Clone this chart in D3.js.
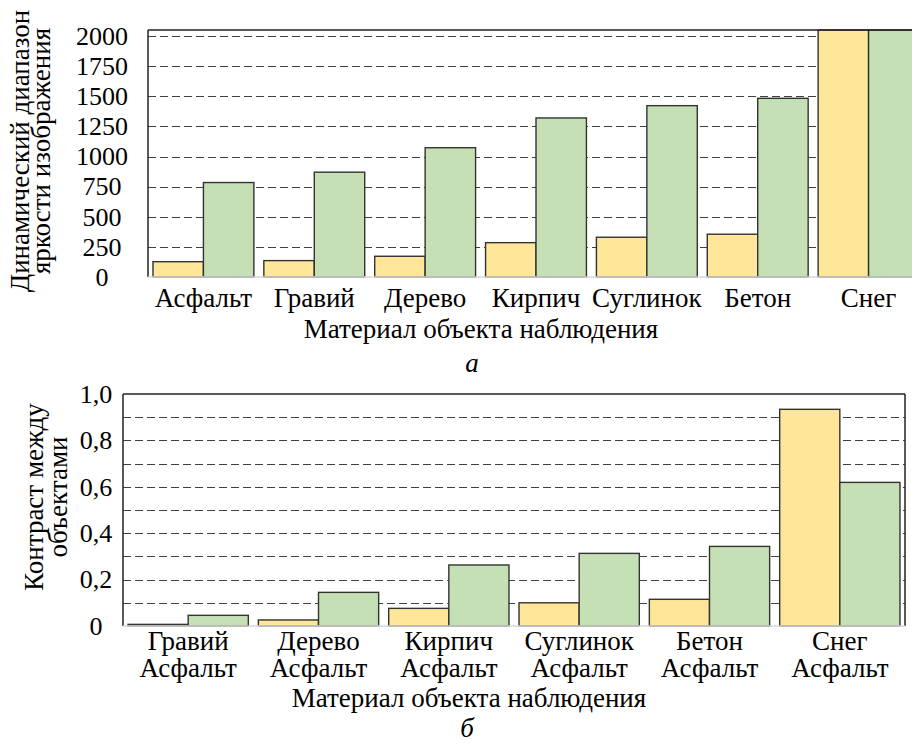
<!DOCTYPE html>
<html>
<head>
<meta charset="utf-8">
<script src="https://cdn.jsdelivr.net/npm/d3@7"></script>
</head>
<body style="margin:0">
<div id="chart"></div>
<script>
// ---- data ----
var seriesNames = ["ряд 1", "ряд 2"];

var topCategories = ["Асфальт", "Гравий", "Дерево", "Кирпич", "Суглинок", "Бетон", "Снег"];
var topYellow = [127, 136, 172, 285, 330, 355, 2050];
var topGreen = [784, 870, 1073, 1320, 1422, 1483, 2050];
var topTicks = [0, 250, 500, 750, 1000, 1250, 1500, 1750, 2000];
var topGrid = [250, 500, 750, 1000, 1250, 1500, 1750, 2000];

var bottomCategories = ["Гравий|Асфальт", "Дерево|Асфальт", "Кирпич|Асфальт",
  "Суглинок|Асфальт", "Бетон|Асфальт", "Снег|Асфальт"];
var bottomYellow = [0.007, 0.026, 0.076, 0.100, 0.115, 0.934];
var bottomGreen = [0.046, 0.145, 0.263, 0.313, 0.343, 0.619];
var bottomTicks = [0, 0.2, 0.4, 0.6, 0.8, 1.0];
var bottomGrid = [0.1, 0.2, 0.3, 0.4, 0.5, 0.6, 0.7, 0.8, 0.9];

var colors = ["#ffe699", "#c5e0b4"];
var fontSize = 27;
var tickFontSize = 26;

var svg = d3.select("#chart").append("svg")
  .attr("width", 912)
  .attr("height", 744)
  .attr("font-family", "Liberation Serif");

function drawChart(o) {
  var g = svg.append("g");

  var x0 = d3.scaleBand()
    .domain(o.categories)
    .range([o.left, o.right])
    .paddingInner(o.padding)
    .paddingOuter(o.padding / 2);

  var x1 = d3.scaleBand()
    .domain(seriesNames)
    .range([0, x0.bandwidth()]);

  var y = d3.scaleLinear()
    .domain([0, o.max])
    .range([o.bottom, o.top])
    .clamp(true);

  // dashed gridlines
  g.append("g")
    .selectAll("line")
    .data(o.grid)
    .enter()
    .append("line")
    .attr("x1", o.left)
    .attr("x2", o.right)
    .attr("y1", (d) => Math.round(y(d)) + 0.5)
    .attr("y2", (d) => Math.round(y(d)) + 0.5)
    .attr("stroke", "#404040")
    .attr("stroke-width", 1)
    .attr("stroke-dasharray", "8,4");

  // bars
  var rows = o.categories.map((c, i) => ({ cat: c, values: [o.yellow[i], o.green[i]] }));
  g.append("g")
    .selectAll("g")
    .data(rows)
    .enter()
    .append("g")
    .attr("transform", (d) => `translate(${x0(d.cat)},0)`)
    .selectAll("rect")
    .data((d) => d.values.map((v, i) => ({ key: seriesNames[i], value: v, i: i })))
    .enter()
    .append("rect")
    .attr("x", (d) => x1(d.key))
    .attr("y", (d) => y(d.value))
    .attr("width", x1.bandwidth())
    .attr("height", (d) => o.bottom - y(d.value))
    .attr("fill", (d) => colors[d.i])
    .attr("stroke", "#333")
    .attr("stroke-width", 1.4);

  // frame
  g.append("line")
    .attr("x1", o.left).attr("x2", o.right)
    .attr("y1", o.top).attr("y2", o.top)
    .attr("stroke", "#222").attr("stroke-width", 1.5);
  g.append("line")
    .attr("x1", o.left).attr("x2", o.left)
    .attr("y1", o.top).attr("y2", o.bottom)
    .attr("stroke", "#222").attr("stroke-width", 1.5);
  g.append("line")
    .attr("x1", o.right).attr("x2", o.right)
    .attr("y1", o.top).attr("y2", o.bottom)
    .attr("stroke", "#222").attr("stroke-width", 1.5);
  g.append("line")
    .attr("x1", o.left).attr("x2", o.right)
    .attr("y1", o.bottom).attr("y2", o.bottom)
    .attr("stroke", "#d9d9d9").attr("stroke-width", 1.5);

  // y axis labels
  var yAxis = d3.axisLeft(y)
    .tickValues(o.ticks)
    .tickSize(0)
    .tickFormat(o.format);
  var ya = g.append("g")
    .attr("transform", `translate(${o.left},0)`)
    .call(yAxis)
    .attr("font-family", "Liberation Serif")
    .attr("font-size", tickFontSize);
  ya.select(".domain").remove();
  ya.selectAll("text")
    .attr("x", o.yLabelX - o.left)
    .attr("text-anchor", "middle")
    .attr("fill", "#000");

  // x axis labels
  var xAxis = d3.axisBottom(x0).tickSize(0);
  var xa = g.append("g")
    .attr("transform", `translate(0,${o.bottom})`)
    .call(xAxis)
    .attr("font-family", "Liberation Serif")
    .attr("font-size", fontSize);
  xa.select(".domain").remove();
  xa.selectAll("text")
    .attr("fill", "#000")
    .attr("y", 0)
    .attr("dy", null)
    .text(null)
    .each(function (d) {
      var parts = d.split("|");
      var t = d3.select(this);
      parts.forEach(function (p, i) {
        t.append("tspan")
          .attr("x", 0)
          .attr("y", o.xLabelY[i] - o.bottom)
          .text(p);
      });
    });

  // y title (rotated, two lines)
  o.yTitle.forEach(function (line, i) {
    g.append("text")
      .attr("transform", `translate(${o.yTitleX[i]},${o.yTitleY}) rotate(-90)`)
      .attr("text-anchor", "middle")
      .attr("font-family", "Liberation Serif")
      .attr("font-size", fontSize)
      .text(line);
  });

  // x title
  g.append("text")
    .attr("x", o.xTitleX)
    .attr("y", o.xTitleY)
    .attr("text-anchor", "middle")
    .attr("font-family", "Liberation Serif")
    .attr("font-size", fontSize)
    .text("Материал объекта наблюдения");

  // panel letter
  g.append("text")
    .attr("x", o.letterX)
    .attr("y", o.letterY)
    .attr("text-anchor", "middle")
    .attr("font-family", "Liberation Serif")
    .attr("font-size", fontSize)
    .attr("font-style", "italic")
    .text(o.letter);
}

/* panel a */
drawChart({
  categories: topCategories,
  yellow: topYellow,
  green: topGreen,
  ticks: topTicks,
  grid: topGrid,
  max: 2050,
  format: d3.format("d"),
  left: 148, right: 924, top: 30, bottom: 277,
  padding: 0.09,
  yLabelX: 102,
  xLabelY: [307],
  yTitle: ["Динамический диапазон", "яркости изображения"],
  yTitleX: [29, 50], yTitleY: 151,
  xTitleX: 481, xTitleY: 338,
  letter: "а", letterX: 472, letterY: 372
});

/* panel б */
drawChart({
  categories: bottomCategories,
  yellow: bottomYellow,
  green: bottomGreen,
  ticks: bottomTicks,
  grid: bottomGrid,
  max: 1,
  format: (d) => d === 0 ? "0" : d3.format(".1f")(d).replace(".", ","),
  left: 123, right: 905, top: 394, bottom: 626,
  padding: 0.077,
  yLabelX: 96,
  xLabelY: [650, 677],
  yTitle: ["Контраст между", "объектами"],
  yTitleX: [43, 67], yTitleY: 497,
  xTitleX: 469, xTitleY: 707,
  letter: "б", letterX: 467, letterY: 737
});
</script>
</body>
</html>
